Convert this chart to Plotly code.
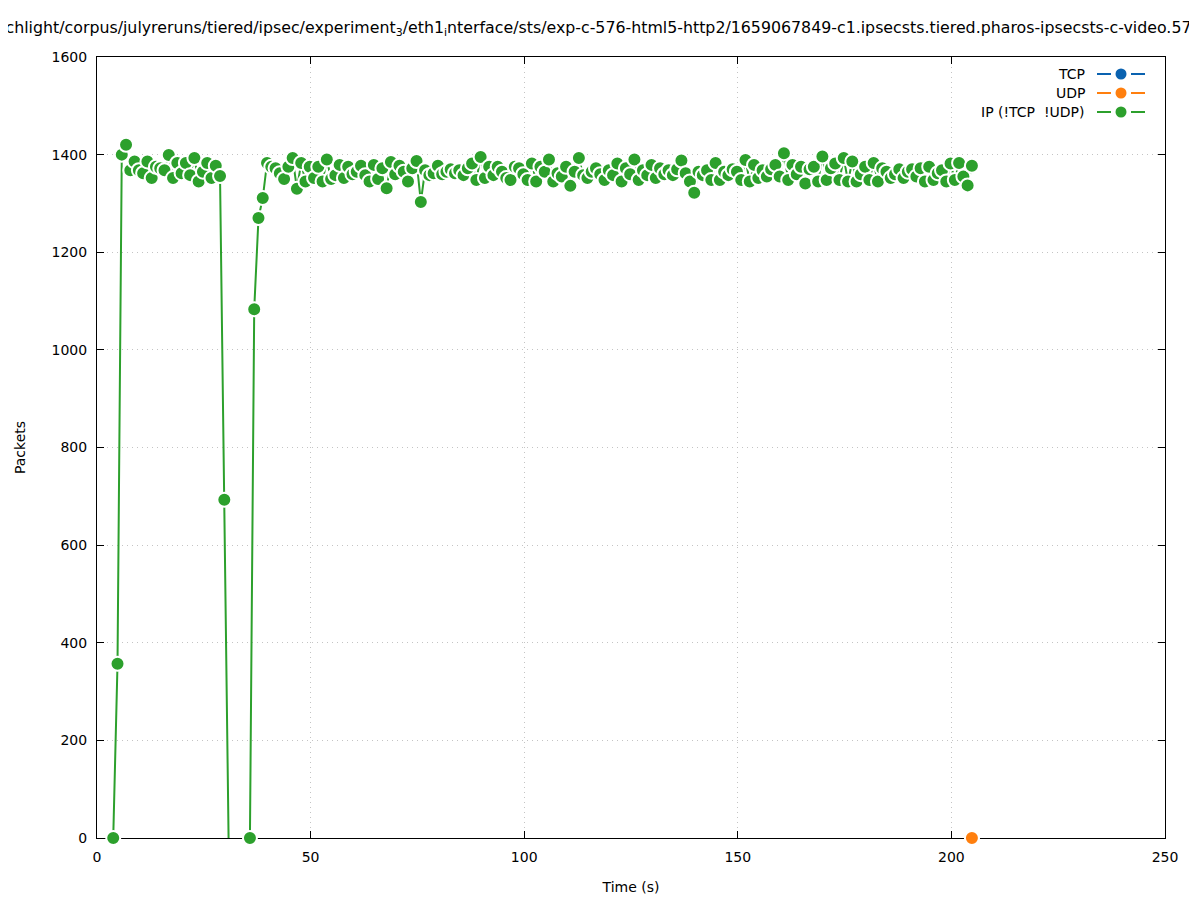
import plotly.graph_objects as go

# ---------------- data ----------------
TIME_S = [
    3.8, 4.8, 5.8, 6.8, 7.8, 8.8, 9.8, 10.8, 11.8, 12.8,
    13.8, 14.8, 15.8, 16.8, 17.8, 18.8, 19.8, 20.8, 21.8, 22.8,
    23.8, 24.8, 25.8, 26.8, 27.8, 28.8, 29.8, 30.8, 31.8, 32.8,
    33.8, 34.8, 35.8, 36.8, 37.8, 38.8, 39.8, 40.8, 41.8, 42.8,
    43.8, 44.8, 45.8, 46.8, 47.8, 48.8, 49.8, 50.8, 51.8, 52.8,
    53.8, 54.8, 55.8, 56.8, 57.8, 58.8, 59.8, 60.8, 61.8, 62.8,
    63.8, 64.8, 65.8, 66.8, 67.8, 68.8, 69.8, 70.8, 71.8, 72.8,
    73.8, 74.8, 75.8, 76.8, 77.8, 78.8, 79.8, 80.8, 81.8, 82.8,
    83.8, 84.8, 85.8, 86.8, 87.8, 88.8, 89.8, 90.8, 91.8, 92.8,
    93.8, 94.8, 95.8, 96.8, 97.8, 98.8, 99.8, 100.8, 101.8, 102.8,
    103.8, 104.8, 105.8, 106.8, 107.8, 108.8, 109.8, 110.8, 111.8, 112.8,
    113.8, 114.8, 115.8, 116.8, 117.8, 118.8, 119.8, 120.8, 121.8, 122.8,
    123.8, 124.8, 125.8, 126.8, 127.8, 128.8, 129.8, 130.8, 131.8, 132.8,
    133.8, 134.8, 135.8, 136.8, 137.8, 138.8, 139.8, 140.8, 141.8, 142.8,
    143.8, 144.8, 145.8, 146.8, 147.8, 148.8, 149.8, 150.8, 151.8, 152.8,
    153.8, 154.8, 155.8, 156.8, 157.8, 158.8, 159.8, 160.8, 161.8, 162.8,
    163.8, 164.8, 165.8, 166.8, 167.8, 168.8, 169.8, 170.8, 171.8, 172.8,
    173.8, 174.8, 175.8, 176.8, 177.8, 178.8, 179.8, 180.8, 181.8, 182.8,
    183.8, 184.8, 185.8, 186.8, 187.8, 188.8, 189.8, 190.8, 191.8, 192.8,
    193.8, 194.8, 195.8, 196.8, 197.8, 198.8, 199.8, 200.8, 201.8, 202.8,
    203.8, 204.8,
]

IP_OTHER = [
    0, 357, 1400, 1420, 1368, 1386, 1368, 1362, 1386, 1352,
    1375, 1372, 1368, 1399, 1352, 1383, 1362, 1383, 1358, 1393,
    1345, 1365, 1383, 1352, 1377, 1356, 693, 0, None, None,
    None, None, 0, 1083, 1270, 1311, 1383, 1375, 1372, 1362,
    1350, 1375, 1393, 1330, 1383, 1345, 1375, 1352, 1375, 1345,
    1390, 1350, 1358, 1379, 1352, 1375, 1360, 1365, 1377, 1358,
    1345, 1379, 1350, 1372, 1331, 1385, 1360, 1377, 1365, 1345,
    1372, 1387, 1303, 1368, 1358, 1362, 1377, 1360, 1365, 1370,
    1362, 1368, 1358, 1372, 1382, 1348, 1395, 1352, 1375, 1358,
    1375, 1365, 1352, 1348, 1375, 1372, 1360, 1348, 1382, 1345,
    1375, 1365, 1390, 1345, 1362, 1355, 1375, 1336, 1365, 1393,
    1358, 1352, 1365, 1372, 1360, 1348, 1368, 1358, 1382, 1345,
    1372, 1360, 1390, 1348, 1368, 1358, 1379, 1352, 1372, 1360,
    1368, 1358, 1370, 1388, 1362, 1345, 1322, 1365, 1358, 1368,
    1348, 1383, 1348, 1365, 1358, 1370, 1365, 1348, 1389, 1345,
    1379, 1352, 1368, 1355, 1370, 1379, 1355, 1403, 1348, 1379,
    1360, 1375, 1341, 1370, 1375, 1345, 1396, 1348, 1372, 1382,
    1348, 1393, 1345, 1386, 1345, 1360, 1375, 1348, 1383, 1345,
    1372, 1365, 1352, 1360, 1370, 1352, 1365, 1370, 1355, 1372,
    1345, 1375, 1348, 1362, 1368, 1345, 1382, 1348, 1383, 1355,
    1337, 1377,
]

TCP = [0] * len(TIME_S)
UDP = [0] * len(TIME_S)

X_TICKS = [0, 50, 100, 150, 200, 250]
Y_TICKS = [0, 200, 400, 600, 800, 1000, 1200, 1400, 1600]

SERIES_NAMES = ["TCP", "UDP", "IP (!TCP  !UDP)"]
COLORS = ["#0a62b0", "#ff7f0e", "#2ca02c"]

TITLE = ("chlight/corpus/julyreruns/tiered/ipsec/experiment<sub>3</sub>/eth1<sub>i</sub>nterface/sts/"
         "exp-c-576-html5-http2/1659067849-c1.ipsecsts.tiered.pharos-ipsecsts-c-video.57")

FONT = "DejaVu Sans"

# page body has an 8px default margin; the figure is sized to fit the window
FIG_W, FIG_H = 1189, 892

# ---------------- figure ----------------
fig = go.Figure()

n = len(TIME_S)
edge_sizes = [0] * (n - 1) + [14]
edge_lw = [0] * (n - 1) + [2]

for vals, name, col in [(TCP, SERIES_NAMES[0], COLORS[0]), (UDP, SERIES_NAMES[1], COLORS[1])]:
    fig.add_trace(go.Scatter(
        x=TIME_S, y=vals, name=name, mode="markers",
        marker=dict(color=col, size=edge_sizes, opacity=1,
                    line=dict(color="white", width=edge_lw)),
        cliponaxis=False, showlegend=False,
    ))

ip_sizes = [0 if (v is None or (26 < i < 32)) else 14 for i, v in enumerate(IP_OTHER)]
ip_lw = [0 if s == 0 else 2 for s in ip_sizes]
fig.add_trace(go.Scatter(
    x=TIME_S, y=IP_OTHER, name=SERIES_NAMES[2], mode="lines+markers",
    line=dict(color=COLORS[2], width=2),
    marker=dict(color=COLORS[2], size=ip_sizes, opacity=1,
                line=dict(color="white", width=ip_lw)),
    connectgaps=False, cliponaxis=False, showlegend=False,
))

# ---------------- custom legend (text left of key, like gnuplot) ----------------
PW, PH = 1068.0, 781.0
def px2x(px):
    return (px - 97) / PW
def px2y(py):
    return (838 - py) / PH

rows = [74, 93, 112]
shapes = []
annotations = []
for name, col, ry in zip(SERIES_NAMES, COLORS, rows):
    annotations.append(dict(
        xref="paper", yref="paper", x=px2x(1087), y=px2y(ry),
        xanchor="right", yanchor="middle", showarrow=False,
        text=name, font=dict(family=FONT, size=14, color="black"),
    ))
    for a, b in [(1097, 1111), (1131, 1145)]:
        shapes.append(dict(type="line", xref="paper", yref="paper",
                           x0=px2x(a), x1=px2x(b), y0=px2y(ry), y1=px2y(ry),
                           line=dict(color=col, width=2)))
    r = 5.5
    shapes.append(dict(type="circle", xref="paper", yref="paper",
                       x0=px2x(1121 - r), x1=px2x(1121 + r),
                       y0=px2y(ry + r), y1=px2y(ry - r),
                       fillcolor=col, line=dict(color=col, width=0)))

fig.update_layout(
    width=FIG_W, height=FIG_H,
    margin=dict(l=89, r=32, t=49, b=62, autoexpand=False),
    paper_bgcolor="white", plot_bgcolor="white",
    font=dict(family=FONT, size=14, color="black"),
    title=dict(text=TITLE, x=(598.5 - 8) / FIG_W, xanchor="center", xref="container",
               y=1 - (27 - 8) / FIG_H, yanchor="middle", yref="container",
               font=dict(family=FONT, size=15.8, color="black")),
    shapes=shapes, annotations=annotations,
    showlegend=False,
)

GRID = dict(showgrid=True, gridcolor="#c4c4c4", griddash="1px,4px", gridwidth=1)

fig.update_xaxes(
    range=[0, 250], tickvals=X_TICKS, ticktext=[str(v) for v in X_TICKS],
    showline=True, linecolor="black", linewidth=1, mirror="allticks",
    ticks="inside", ticklen=7, tickcolor="black", tickwidth=1,
    zeroline=False, layer="below traces", automargin=False,
    ticklabelstandoff=6,
    title=dict(text="Time (s)", standoff=18, font=dict(family=FONT, size=14)),
    **GRID,
)
fig.update_yaxes(
    range=[0, 1600], tickvals=Y_TICKS, ticktext=[str(v) for v in Y_TICKS],
    showline=True, linecolor="black", linewidth=1, mirror="allticks",
    ticks="inside", ticklen=7, tickcolor="black", tickwidth=1,
    zeroline=False, layer="below traces", automargin=False,
    ticklabelstandoff=6,
    title=dict(text="Packets", standoff=22, font=dict(family=FONT, size=14)),
    **GRID,
)

fig.write_html("out.html")
